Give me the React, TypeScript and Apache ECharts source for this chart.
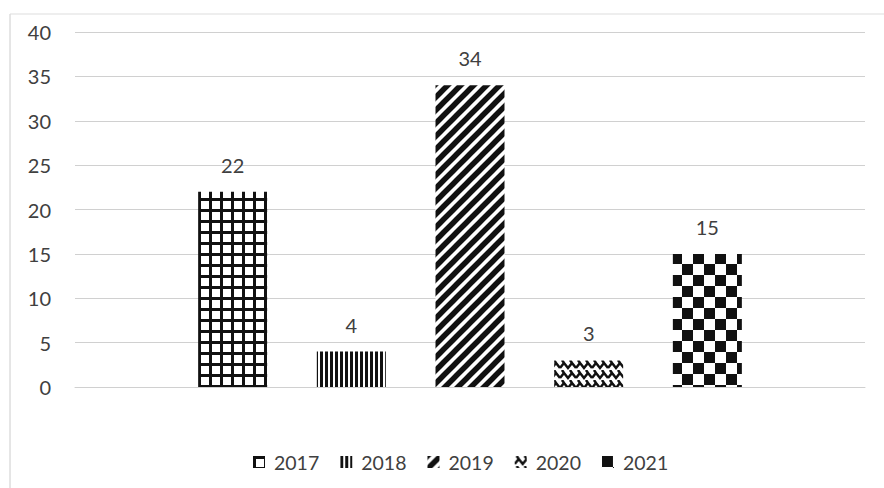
import React, { useEffect, useRef } from "react";
import * as echarts from "echarts";

const years = ["2017", "2018", "2019", "2020", "2021"];
const values = [22, 4, 34, 3, 15];
const yTicks = [0, 5, 10, 15, 20, 25, 30, 35, 40];

function tile(w: number, h: number, draw: (ctx: CanvasRenderingContext2D) => void) {
  const c = document.createElement("canvas");
  c.width = w;
  c.height = h;
  const ctx = c.getContext("2d") as CanvasRenderingContext2D;
  ctx.fillStyle = "#ffffff";
  ctx.fillRect(0, 0, w, h);
  ctx.fillStyle = "#111111";
  ctx.strokeStyle = "#111111";
  draw(ctx);
  return c;
}

function makePatterns() {
  const grid = tile(11, 11, (ctx) => {
    ctx.fillRect(0, 0, 11, 3);
    ctx.fillRect(0, 0, 3, 11);
  });
  const vert = tile(5, 4, (ctx) => {
    ctx.fillRect(0, 0, 3, 4);
  });
  const diag = tile(13, 13, (ctx) => {
    ctx.lineWidth = 5.5;
    ctx.beginPath();
    ctx.moveTo(-2, 15);
    ctx.lineTo(15, -2);
    ctx.moveTo(-3, 3);
    ctx.lineTo(3, -3);
    ctx.moveTo(10, 16);
    ctx.lineTo(16, 10);
    ctx.stroke();
  });
  const zig = tile(16, 10, (ctx) => {
    ctx.lineWidth = 2.5;
    ctx.beginPath();
    ctx.moveTo(0, 8);
    ctx.lineTo(4, 3);
    ctx.lineTo(8, 8);
    ctx.lineTo(12, 3);
    ctx.lineTo(16, 8);
    ctx.moveTo(2, 0);
    ctx.lineTo(4, 3);
    ctx.moveTo(10, 0);
    ctx.lineTo(12, 3);
    ctx.stroke();
  });
  const check = tile(22, 22, (ctx) => {
    ctx.fillRect(0, 0, 11, 11);
    ctx.fillRect(11, 11, 11, 11);
  });
  return [grid, vert, diag, zig, check];
}

export default function App() {
  const ref = useRef<HTMLDivElement>(null);
  useEffect(() => {
    document.body.style.margin = "0";
    const chart = echarts.init(ref.current!, undefined, { renderer: "svg" });
    const patterns = makePatterns();
    const font = "Lato, 'Open Sans', sans-serif";
    const series = years.map((y, i) => ({
      name: y,
      type: "bar",
      data: [values[i]],
      barWidth: 69,
      barGap: "72%",
      itemStyle: {
        color: { image: patterns[i], repeat: "repeat" },
      },
      label: {
        show: true,
        position: "top",
        distance: 17,
        fontSize: 20,
        color: "#404040",
        fontFamily: font,
      },
    }));
    chart.setOption({
      animation: false,
      backgroundColor: "#ffffff",
      grid: { left: 75, right: 19, top: 32, bottom: 101 },
      xAxis: {
        type: "category",
        data: ["total"],
        axisLine: { lineStyle: { color: "#d0d0d0" } },
        axisTick: { show: false },
        axisLabel: { show: false },
      },
      yAxis: {
        type: "value",
        min: yTicks[0],
        max: yTicks[yTicks.length - 1],
        interval: 5,
        axisLine: { show: false },
        axisTick: { show: false },
        axisLabel: { fontSize: 20, color: "#404040", fontFamily: font, margin: 24, align: "right" },
        splitLine: { lineStyle: { color: "#d0d0d0", width: 1 } },
      },
      legend: {
        left: 248,
        top: 447,
        itemWidth: 12,
        itemHeight: 12,
        itemGap: 21,
        icon: "rect",
        textStyle: { fontSize: 19.5, color: "#404040", fontFamily: font, padding: [0, 0, 0, 4] },
        data: years,
      },
      graphic: [
        { type: "line", shape: { x1: 10, y1: 14, x2: 10, y2: 488 }, style: { stroke: "#cccccc", lineWidth: 1 } },
        { type: "line", shape: { x1: 10, y1: 14, x2: 884, y2: 14 }, style: { stroke: "#dddddd", lineWidth: 1 } },
      ],
      series,
    });
    return () => chart.dispose();
  }, []);
  return <div ref={ref} style={{ position: "absolute", left: 0, top: 0, width: 884, height: 488 }} />;
}
